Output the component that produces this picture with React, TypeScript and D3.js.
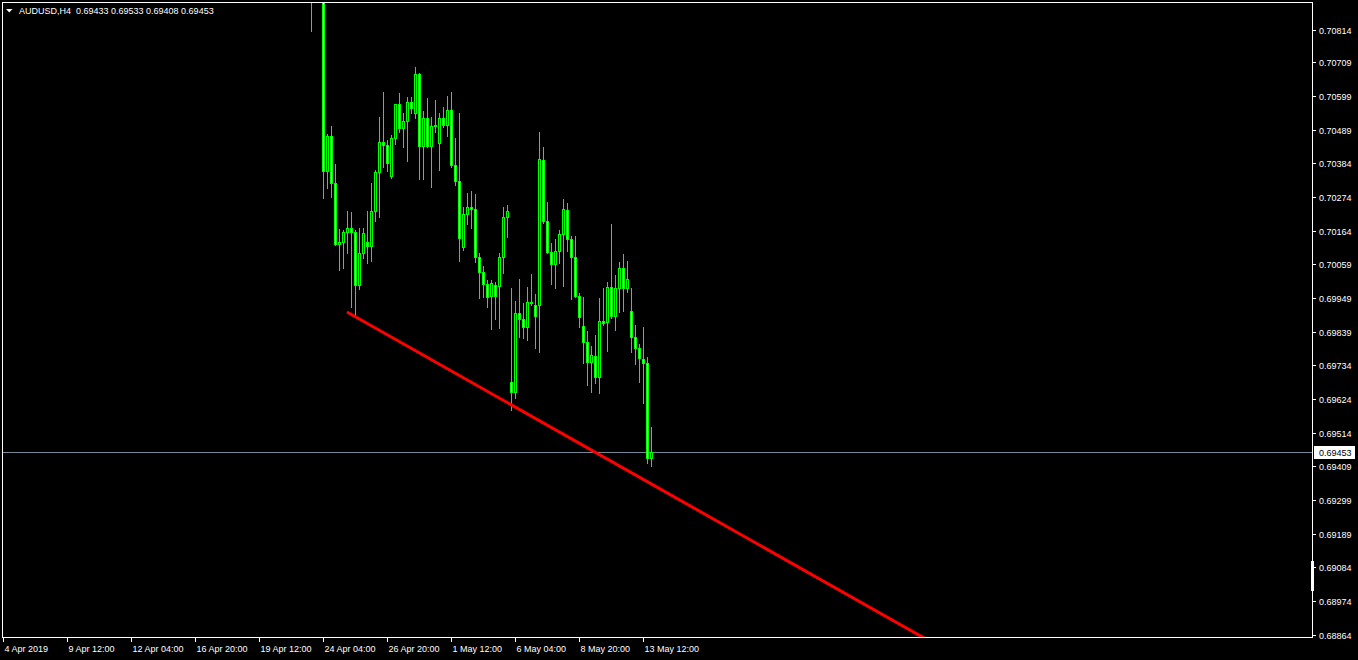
import React, { useEffect } from "react";
import * as d3 from "d3";

const symbolTitle = "AUDUSD,H4  0.69433 0.69533 0.69408 0.69453";
const firstBar = 77;
const opens = [0.7105,0.7102,0.7099,0.7097,0.70359,0.70471,0.70320,0.70123,0.70129,0.70161,0.70174,0.70163,0.69991,0.70093,0.70130,0.70117,0.70230,0.70354,0.70452,0.70442,0.70343,0.70463,0.70573,0.70498,0.70518,0.70579,0.70546,0.70670,0.70440,0.70528,0.70440,0.70503,0.70449,0.70528,0.70506,0.70555,0.70377,0.70327,0.70114,0.70220,0.70241,0.70236,0.70082,0.70032,0.69993,0.69957,0.69990,0.69989,0.70080,0.70209,0.69680,0.69647,0.69900,0.69881,0.69855,0.69937,0.69927,0.69927,0.70393,0.70197,0.70096,0.70058,0.70101,0.70154,0.70233,0.70138,0.70082,0.69957,0.69860,0.69808,0.69744,0.69764,0.69694,0.69875,0.69871,0.69984,0.69892,0.69980,0.70045,0.69982,0.69907,0.69823,0.69789,0.69753,0.69739,0.69433];
const highs = [0.7112,0.7110,0.7104,0.7100,0.70477,0.70503,0.70381,0.70171,0.70168,0.70229,0.70225,0.70168,0.70175,0.70174,0.70229,0.70320,0.70361,0.70533,0.70612,0.70458,0.70474,0.70574,0.70608,0.70544,0.70597,0.70597,0.70694,0.70675,0.70551,0.70594,0.70533,0.70587,0.70544,0.70565,0.70600,0.70612,0.70463,0.70546,0.70243,0.70288,0.70294,0.70284,0.70093,0.70052,0.70007,0.70007,0.70000,0.70095,0.70241,0.70249,0.69980,0.69939,0.70010,0.69934,0.69986,0.70026,0.69962,0.70483,0.70434,0.70257,0.70125,0.70139,0.70168,0.70268,0.70254,0.70150,0.70149,0.69964,0.69953,0.69844,0.69795,0.69830,0.69948,0.69982,0.70000,0.70187,0.70023,0.70066,0.70091,0.70068,0.69980,0.69862,0.69800,0.69857,0.69760,0.69533];
const lows = [0.70810,0.7093,0.7093,0.70272,0.70304,0.70275,0.70120,0.70039,0.70045,0.70094,0.69921,0.69888,0.69978,0.70078,0.70062,0.70069,0.70198,0.70211,0.70372,0.70359,0.70337,0.70445,0.70485,0.70436,0.70390,0.70544,0.70528,0.70332,0.70332,0.70436,0.70308,0.70485,0.70361,0.70501,0.70471,0.70372,0.70313,0.70069,0.70104,0.70187,0.70174,0.70066,0.69948,0.69953,0.69919,0.69848,0.69881,0.69852,0.70029,0.70147,0.69589,0.69626,0.69825,0.69819,0.69814,0.69927,0.69787,0.69774,0.70190,0.70095,0.69993,0.69980,0.70061,0.69989,0.70100,0.69946,0.69953,0.69857,0.69739,0.69669,0.69647,0.69675,0.69644,0.69862,0.69779,0.69884,0.69846,0.69905,0.69907,0.69969,0.69774,0.69736,0.69680,0.69610,0.69419,0.69408];
const closes = [0.7102,0.7099,0.7097,0.70359,0.70471,0.70320,0.70123,0.70129,0.70161,0.70174,0.70163,0.69991,0.70093,0.70158,0.70117,0.70230,0.70354,0.70452,0.70442,0.70383,0.70463,0.70573,0.70498,0.70518,0.70579,0.70560,0.70670,0.70440,0.70528,0.70440,0.70503,0.70506,0.70528,0.70506,0.70555,0.70377,0.70327,0.70143,0.70220,0.70241,0.70236,0.70082,0.70032,0.69993,0.69953,0.69996,0.69957,0.70080,0.70209,0.70229,0.69647,0.69900,0.69881,0.69855,0.69937,0.69934,0.69892,0.70396,0.70198,0.70096,0.70058,0.70100,0.70154,0.70236,0.70138,0.70082,0.69957,0.69887,0.69808,0.69744,0.69766,0.69694,0.69875,0.69868,0.69984,0.69892,0.69980,0.70045,0.69982,0.70009,0.69823,0.69789,0.69755,0.69741,0.69433,0.69453];

const priceTicks = ["0.70814","0.70709","0.70599","0.70489","0.70384","0.70274","0.70164","0.70059","0.69949","0.69839","0.69734","0.69624","0.69514","0.69409","0.69299","0.69189","0.69084","0.68974","0.68864"];
const timeLabels = ["4 Apr 2019","9 Apr 12:00","12 Apr 04:00","16 Apr 20:00","19 Apr 12:00","24 Apr 04:00","26 Apr 20:00","1 May 12:00","6 May 04:00","8 May 20:00","13 May 12:00"];
const timeLabelStep = 16;
const currentPrice = 0.69453;
const trendPoints = [
  { bar: 86, price: 0.69904 },
  { bar: 162, price: 0.69351 },
];

const W = 1358, H = 660;
const plot = { left: 2, top: 2, right: 1312, bottom: 637 };
const FONT = "'Liberation Sans', Arial, sans-serif";

export default function App() {
  useEffect(() => {
    document.body.style.margin = "0";
    document.body.style.background = "#000";
  }, []);

  const x = d3.scaleLinear().domain([0, 1]).range([3, 7]);
  const y = d3.scaleLinear().domain([0.68864, 0.70814]).range([635, 29.5]);
  const py = (v: number) => Math.round(y(v));

  const candles = opens.map((o, i) => {
    const cx = Math.round(x(firstBar + i));
    const hi = py(highs[i]);
    const lo = py(lows[i]);
    const top = py(Math.max(o, closes[i]));
    const bot = py(Math.min(o, closes[i]));
    const bear = closes[i] < o;
    return (
      <g key={i}>
        <line x1={cx + 0.5} x2={cx + 0.5} y1={hi} y2={lo + 1} stroke="#00ff00" strokeWidth={1} />
        <rect x={cx - 1} y={top} width={3} height={Math.max(1, bot - top + 1)} fill="#00ff00" />
        {bot - top >= 2 && (
          <rect x={cx} y={top + 1} width={1} height={bot - top - 1} fill={bear ? "#ffffff" : "#000000"} />
        )}
      </g>
    );
  });

  const slope = (trendPoints[1].price - trendPoints[0].price) / (trendPoints[1].bar - trendPoints[0].bar);
  const endBar = 400;
  const tx1 = x(trendPoints[0].bar), ty1 = y(trendPoints[0].price);
  const tx2 = x(endBar), ty2 = y(trendPoints[0].price + slope * (endBar - trendPoints[0].bar));

  const cpY = Math.round(y(currentPrice)) + 0.5;

  return (
    <svg width={W} height={H} style={{ position: "absolute", left: 0, top: 0, display: "block", background: "#000" }}>
      <defs>
        <clipPath id="plotClip">
          <rect x={plot.left + 1} y={plot.top + 1} width={plot.right - plot.left - 1} height={plot.bottom - plot.top - 1} />
        </clipPath>
      </defs>
      <rect x={0} y={0} width={W} height={H} fill="#000" />
      <g clipPath="url(#plotClip)">
        <line x1={plot.left} x2={plot.right} y1={cpY} y2={cpY} stroke="#778899" strokeWidth={1} />
        {candles}
        <line x1={tx1} y1={ty1} x2={tx2} y2={ty2} stroke="#ff0000" strokeWidth={3} />
      </g>
      <rect x={plot.left + 0.5} y={plot.top + 0.5} width={plot.right - plot.left} height={plot.bottom - plot.top} fill="none" stroke="#ffffff" strokeWidth={1} />
      <rect x={1311} y={561} width={3} height={30} fill="#ffffff" />
      {priceTicks.map((t) => {
        const yy = Math.round(y(+t)) + 0.5;
        return (
          <g key={t}>
            <line x1={plot.right + 1} x2={plot.right + 4} y1={yy} y2={yy} stroke="#ffffff" />
            <text x={1319} y={yy + 3.3} fill="#ffffff" fontFamily={FONT} fontSize={9}>{t}</text>
          </g>
        );
      })}
      <rect x={1314} y={cpY - 6.5} width={41} height={13} fill="#ffffff" />
      <text x={1319} y={cpY + 3.3} fill="#000000" fontFamily={FONT} fontSize={9}>{currentPrice.toFixed(5)}</text>
      {timeLabels.map((t, j) => {
        const xx = Math.round(x(j * timeLabelStep)) + 0.5;
        return (
          <g key={t}>
            <line x1={xx} x2={xx} y1={plot.bottom} y2={plot.bottom + 5} stroke="#ffffff" />
            <text x={xx + 1} y={652} fill="#ffffff" fontFamily={FONT} fontSize={9}>{t}</text>
          </g>
        );
      })}
      <path d="M6,9 L12.5,9 L9.25,12.5 Z" fill="#ffffff" />
      <text x={19} y={14} fill="#ffffff" fontFamily={FONT} fontSize={9} style={{ whiteSpace: "pre" }}>{symbolTitle}</text>
    </svg>
  );
}
